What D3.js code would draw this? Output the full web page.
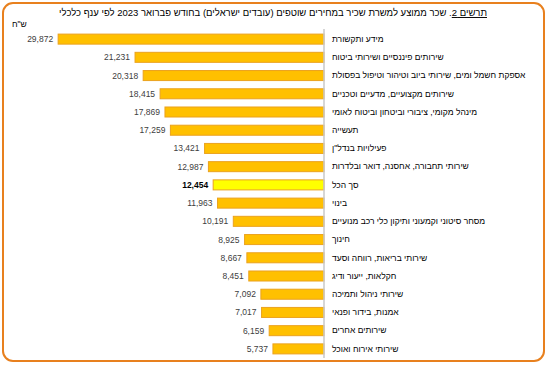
<!DOCTYPE html>
<html>
<head>
<meta charset="utf-8">
<script src="https://cdn.jsdelivr.net/npm/d3@7"></script>
<style>
	body { margin: 0; background: #fff; }
	svg { display: block; font-family: Arial, "Liberation Sans", sans-serif; }
</style>
</head>
<body>
<svg id="chart" width="551" height="368"></svg>
<script>
// branches, top to bottom as in the chart
var categories = [
	"מידע ותקשורת",
	"שירותים פיננסיים ושירותי ביטוח",
	"אספקת חשמל ומים, שירותי ביוב וטיהור וטיפול בפסולת",
	"שירותים מקצועיים, מדעיים וטכניים",
	"מינהל מקומי, ציבורי וביטחון וביטוח לאומי",
	"תעשייה",
	"פעילויות בנדל\"ן",
	"שירותי תחבורה, אחסנה, דואר ובלדרות",
	"סך הכל",
	"בינוי",
	"מסחר סיטוני וקמעוני ותיקון כלי רכב מנועיים",
	"חינוך",
	"שירותי בריאות, רווחה וסעד",
	"חקלאות, ייעור ודיג",
	"שירותי ניהול ותמיכה",
	"אמנות, בידור ופנאי",
	"שירותים אחרים",
	"שירותי אירוח ואוכל"
];
var wages = [29872, 21231, 20318, 18415, 17869, 17259, 13421, 12987, 12454,
	11963, 10191, 8925, 8667, 8451, 7092, 7017, 6159, 5737];
var totalLabel = "סך הכל";
var titleNumber = "תרשים 2";
var titleRest = ". שכר ממוצע למשרת שכיר במחירים שוטפים (עובדים ישראלים) בחודש פברואר 2023 לפי ענף כלכלי";
var unitLabel = "ש\"ח";

var data = categories.map(function(c, i) { return {name: c, value: wages[i]}; });

var svg = d3.select("#chart");
var format = d3.format(",d");

// frame
svg.append("rect")
	.attr("x", 3).attr("y", 3)
	.attr("width", 541).attr("height", 358)
	.attr("rx", 10)
	.attr("fill", "#fff")
	.attr("stroke", "#E8801E")
	.attr("stroke-width", 2);

// title (right aligned, rtl)
var title = svg.append("text")
	.attr("x", 487).attr("y", 16)
	.attr("direction", "rtl")
	.attr("text-anchor", "start")
	.style("font-size", "9.5px")
	.attr("fill", "#000");
title.append("tspan").attr("text-decoration", "underline").text(titleNumber);
title.append("tspan").text(titleRest);

svg.append("text")
	.attr("x", 12).attr("y", 27)
	.style("font-size", "8.5px")
	.attr("fill", "#000")
	.text(unitLabel);

var x = d3.scaleLinear()
	.domain([0, 30000])
	.range([324, 57]);

var y = d3.scaleBand()
	.domain(categories)
	.range([30, 358])
	.paddingInner(0.45)
	.paddingOuter(0.225);

// bars
svg.selectAll(".bar")
	.data(data)
	.enter().append("rect")
	.attr("class", "bar")
	.attr("x", function(d) { return x(d.value); })
	.attr("y", function(d) { return y(d.name); })
	.attr("width", function(d) { return x(0) - x(d.value); })
	.attr("height", y.bandwidth())
	.attr("fill", function(d) { return d.name === totalLabel ? "#FFFF00" : "#FFC000"; })
	.attr("stroke", "#EBA21E")
	.attr("stroke-width", 1);

// value labels
svg.selectAll(".val")
	.data(data)
	.enter().append("text")
	.attr("class", "val")
	.attr("x", function(d) { return x(d.value) - 5; })
	.attr("y", function(d) { return y(d.name) + y.bandwidth() / 2; })
	.attr("dy", ".35em")
	.attr("text-anchor", "end")
	.style("font-size", "8.5px")
	.style("font-weight", function(d) { return d.name === totalLabel ? "bold" : "normal"; })
	.attr("fill", function(d) { return d.name === totalLabel ? "#000" : "#404040"; })
	.text(function(d) { return format(d.value); });

// category axis on the right side of the bars
var axis = d3.axisRight(y).tickSize(0).tickPadding(8);
var gAxis = svg.append("g")
	.attr("transform", "translate(" + x(0) + ",0)")
	.call(axis);
gAxis.select(".domain").remove();
gAxis.append("line")
	.attr("x1", 0).attr("x2", 0)
	.attr("y1", 29).attr("y2", 358)
	.attr("stroke", "#C8C8C8")
	.attr("stroke-width", 1.5);
gAxis.selectAll(".tick text")
	.attr("direction", "rtl")
	.attr("text-anchor", "end")
	.attr("fill", "#000")
	.style("font-size", "8.5px")
	.style("font-family", "Arial, 'Liberation Sans', sans-serif");
</script>
</body>
</html>
